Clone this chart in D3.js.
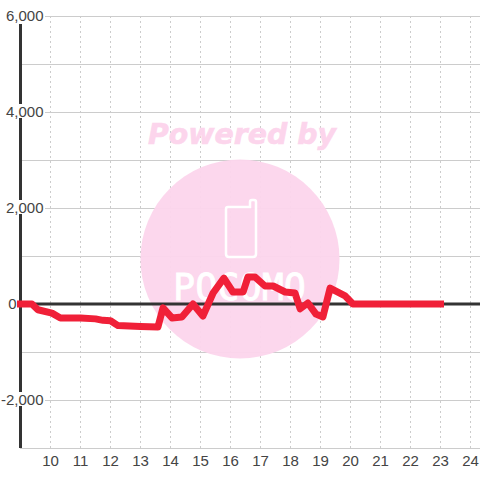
<!DOCTYPE html>
<html><head><meta charset="utf-8">
<script src="https://cdn.jsdelivr.net/npm/d3@7/dist/d3.min.js"></script>
<style>html,body{margin:0;padding:0;background:#fff}svg{display:block}</style></head>
<body><svg id="c" width="480" height="480"></svg>
<script>
const hours=[9,9.38,9.58,10.05,10.33,11,11.5,11.75,12,12.25,13,13.58,13.75,14.05,14.38,14.75,15.08,15.42,15.78,16.08,16.42,16.58,16.82,17.15,17.42,17.82,18.15,18.32,18.58,18.85,19.08,19.32,19.82,20.08,21,22,23];
const profit=[0,0,-120,-190,-290,-290,-310,-340,-350,-450,-470,-480,-80,-290,-270,0,-250,230,540,250,250,560,560,375,375,250,230,-100,20,-210,-270,330,170,0,0,0,0];
const xTicks=d3.range(10,25);
const yTicks=d3.range(-2000,6001,2000);
const yGrid=d3.range(-3000,6001,1000);
const logoWord="POCOMO";
const logoCaption="Powered by";

const x=d3.scaleLinear().domain([9,24.3333]).range([20.5,480.5]);
const y=d3.scaleLinear().domain([-3000,6000]).range([448,16]);
const svg=d3.select("#c");
const font="'Liberation Sans',Arial,sans-serif";

// grid
svg.append("g").selectAll("line").data(xTicks).join("line")
 .attr("x1",d=>x(d)).attr("x2",d=>x(d)).attr("y1",y(6000)).attr("y2",y(-3000))
 .attr("stroke","#ccc").attr("stroke-dasharray","2,3");
svg.append("g").selectAll("line").data(yGrid).join("line")
 .attr("x1",20).attr("x2",480).attr("y1",d=>Math.round(y(d))+.5).attr("y2",d=>Math.round(y(d))+.5)
 .attr("stroke","#ccc");

// watermark
const wm=svg.append("g");
wm.append("circle").attr("cx",240).attr("cy",259).attr("r",99.5).attr("fill","#fcd5ec").attr("opacity",.95);
wm.append("text").attr("x",242).attr("y",144).attr("text-anchor","middle")
 .attr("font-family","'DejaVu Sans'").attr("font-weight","bold").attr("font-style","italic").attr("font-size",28)
 .attr("textLength",188).attr("lengthAdjust","spacingAndGlyphs")
 .attr("stroke","#fcd5ec").attr("stroke-width",.6)
 .attr("fill","#fcd5ec").text(logoCaption);
wm.append("path").attr("d","M228 207H250V202Q250 200 252 200H254Q256 200 256 202V254Q256 257 253 257H229Q226 257 226 254V209Q226 207 228 207Z")
 .attr("fill","none").attr("stroke","#fff").attr("stroke-width",2.5);
wm.append("text").attr("x",173).attr("y",300)
 .attr("font-family","'DejaVu Sans Mono','Liberation Mono',monospace").attr("font-size",38)
 .attr("textLength",133).attr("lengthAdjust","spacingAndGlyphs")
 .attr("fill","#fff").attr("stroke","#fff").attr("stroke-width",.8).text(logoWord);

// axes
svg.append("line").attr("x1",22).attr("x2",480).attr("y1",y(0)).attr("y2",y(0)).attr("stroke","#333").attr("stroke-width",3);
svg.append("line").attr("x1",20.5).attr("x2",20.5).attr("y1",24).attr("y2",448).attr("stroke","#333").attr("stroke-width",3);

// line
svg.append("path").datum(d3.zip(hours,profit))
 .attr("d",d3.line().x(d=>x(d[0])).y(d=>y(d[1])))
 .attr("fill","none").attr("stroke","#f02038").attr("stroke-width",7).attr("stroke-linejoin","round").attr("stroke-linecap","square");

// labels
svg.append("g").selectAll("text").data(xTicks).join("text")
 .attr("x",d=>x(d)).attr("y",466).attr("text-anchor","middle").attr("font-family",font).attr("font-size",15).attr("fill","#444").text(d=>d);
const labelEnd=d=>d===0?16.5:43.5;
const yl=svg.append("g").selectAll("g").data(yTicks).join("g");
const yt=yl.append("text")
 .attr("x",labelEnd).attr("y",d=>y(d)+5).attr("text-anchor","end").attr("font-family",font).attr("font-size",15).attr("fill","#444")
 .text(d=>d3.format(",")(d).replace("−","-"));
yt.each(function(d){
  const w=this.getComputedTextLength();
  d3.select(this.parentNode).insert("rect","text")
   .attr("x",labelEnd(d)-w).attr("width",w+(d===0?0:1.5)).attr("y",y(d)-8).attr("height",14).attr("fill","#fff");
});
</script></body></html>
